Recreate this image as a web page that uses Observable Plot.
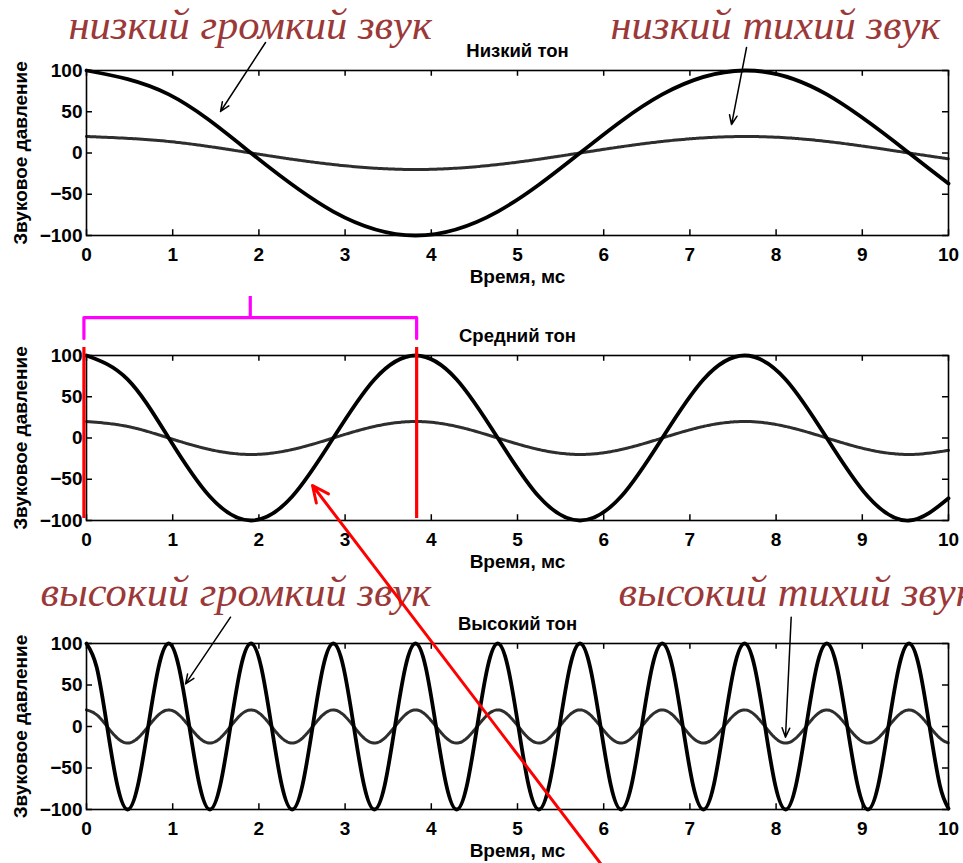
<!DOCTYPE html>
<html>
<head>
<meta charset="utf-8">
<script src="https://cdn.jsdelivr.net/npm/d3@7"></script>
<script src="https://cdn.jsdelivr.net/npm/@observablehq/plot@0.6"></script>
<style>
html, body { margin: 0; padding: 0; background: #fff; overflow: hidden; width: 963px; height: 863px; }
#wrap { position: relative; width: 963px; height: 863px; overflow: hidden; }
#wrap > svg { position: absolute; left: 0; }
</style>
</head>
<body>
<div id="wrap"></div>
<script>
// ---------- data ----------
const panelTitles = ["Низкий тон", "Средний тон", "Высокий тон"];
const xLabel = "Время, мс";
const yLabel = "Звуковое давление";
const xTicks = [0, 1, 2, 3, 4, 5, 6, 7, 8, 9, 10];
const yTicks = [-100, -50, 0, 50, 100];
const noteTexts = ["низкий громкий звук", "низкий тихий звук", "высокий громкий звук", "высокий тихий звук"];

// Low tone (period ≈ 7.63 ms)
const timeLowMs = [0, 0.954, 1.908, 2.863, 3.817, 4.771, 5.725, 6.680, 7.634, 8.588, 9.542, 10];
const lowLoud  = [100, 71, 0, -71, -100, -71, 0, 71, 100, 71, 0, -37];
const lowQuiet = [20, 14, 0, -14, -20, -14, 0, 14, 20, 14, 0, -7];

// Middle tone (period ≈ 3.82 ms)
const timeMidMs = [0, 0.477, 0.954, 1.431, 1.908, 2.386, 2.863, 3.340, 3.817, 4.294, 4.771,
  5.248, 5.725, 6.202, 6.680, 7.157, 7.634, 8.111, 8.588, 9.065, 9.542, 10];
const midLoud  = [100, 71, 0, -71, -100, -71, 0, 71, 100, 71, 0, -71, -100, -71, 0, 71, 100, 71, 0, -71, -100, -73];
const midQuiet = [20, 14, 0, -14, -20, -14, 0, 14, 20, 14, 0, -14, -20, -14, 0, 14, 20, 14, 0, -14, -20, -15];

// High tone (period ≈ 0.954 ms)
const timeHighMs = [
  0, 0.119, 0.239, 0.358, 0.477, 0.596, 0.716, 0.835,
  0.954, 1.073, 1.193, 1.312, 1.431, 1.551, 1.670, 1.789,
  1.908, 2.028, 2.147, 2.266, 2.386, 2.505, 2.624, 2.743,
  2.863, 2.982, 3.101, 3.220, 3.340, 3.459, 3.578, 3.698,
  3.817, 3.936, 4.055, 4.175, 4.294, 4.413, 4.532, 4.652,
  4.771, 4.890, 5.010, 5.129, 5.248, 5.367, 5.487, 5.606,
  5.725, 5.844, 5.964, 6.083, 6.202, 6.322, 6.441, 6.560,
  6.679, 6.799, 6.918, 7.037, 7.157, 7.276, 7.395, 7.514,
  7.634, 7.753, 7.872, 7.991, 8.111, 8.230, 8.349, 8.468,
  8.588, 8.707, 8.826, 8.946, 9.065, 9.184, 9.303, 9.423,
  9.542, 9.661, 9.780, 9.900, 10];
const highLoud = [
  100, 71, 0, -71, -100, -71, 0, 71,
  100, 71, 0, -71, -100, -71, 0, 71,
  100, 71, 0, -71, -100, -71, 0, 71,
  100, 71, 0, -71, -100, -71, 0, 71,
  100, 71, 0, -71, -100, -71, 0, 71,
  100, 71, 0, -71, -100, -71, 0, 71,
  100, 71, 0, -71, -100, -71, 0, 71,
  100, 71, 0, -71, -100, -71, 0, 71,
  100, 71, 0, -71, -100, -71, 0, 71,
  100, 71, 0, -71, -100, -71, 0, 71,
  100, 71, 0, -71, -99];
const highQuiet = [
  20, 14, 0, -14, -20, -14, 0, 14,
  20, 14, 0, -14, -20, -14, 0, 14,
  20, 14, 0, -14, -20, -14, 0, 14,
  20, 14, 0, -14, -20, -14, 0, 14,
  20, 14, 0, -14, -20, -14, 0, 14,
  20, 14, 0, -14, -20, -14, 0, 14,
  20, 14, 0, -14, -20, -14, 0, 14,
  20, 14, 0, -14, -20, -14, 0, 14,
  20, 14, 0, -14, -20, -14, 0, 14,
  20, 14, 0, -14, -20, -14, 0, 14,
  20, 14, 0, -14, -20];

// highlighted period in the middle panel (ms)
const periodMarks = [-0.03, 3.83];

// ---------- build ----------
const toPts = (t, v) => t.map((d, i) => ({t: d, v: v[i]}));
const series = [
  {loud: toPts(timeLowMs, lowLoud),  quiet: toPts(timeLowMs, lowQuiet)},
  {loud: toPts(timeMidMs, midLoud),  quiet: toPts(timeMidMs, midQuiet)},
  {loud: toPts(timeHighMs, highLoud), quiet: toPts(timeHighMs, highQuiet)}
];

// layout of each panel (pixels) and annotations (data units)
const layout = [
  {top: 0,   height: 285, marginTop: 70, marginBottom: 50},
  {top: 285, height: 285, marginTop: 70, marginBottom: 50},
  {top: 570, height: 293, marginTop: 73, marginBottom: 54}
];
const notes = [
  [{text: noteTexts[0], x: -0.209, y: 138.2}, {text: noteTexts[1], x: 6.079, y: 138.2}],
  [],
  [{text: noteTexts[2], x: -0.534, y: 144.6}, {text: noteTexts[3], x: 6.172, y: 144.6}]
];
const blackArrows = [
  [{x1: 2.077, y1: 133.9, x2: 1.555, y2: 50.3}, {x1: 7.657, y1: 127.9, x2: 7.483, y2: 34.5}],
  [],
  [{x1: 1.671, y1: 131.7, x2: 1.149, y2: 51.4}, {x1: 8.175, y1: 131.7, x2: 8.109, y2: -12.9}]
];
const redArrow = [{x1: 6.044, y1: -176, x2: 2.622, y2: 290.4}];
const bracket = [
  {x: periodMarks[0], y: 120.6}, {x: periodMarks[0], y: 146},
  {x: periodMarks[1], y: 146}, {x: periodMarks[1], y: 120.6}
];
const bracketStem = [{x: (periodMarks[0] + periodMarks[1]) / 2, y1: 146, y2: 171.5}];

const font = "'Liberation Sans', Arial, Helvetica, sans-serif";
const serif = "'Liberation Serif', 'Times New Roman', serif";
const wrap = document.getElementById("wrap");

layout.forEach((L, i) => {
  const marks = [
    Plot.line(series[i].quiet, {x: "t", y: "v", curve: "natural", stroke: "#2e2e2e", strokeWidth: 3, strokeDasharray: "2.5,0.8"}),
    Plot.line(series[i].loud,  {x: "t", y: "v", curve: "natural", stroke: "#000", strokeWidth: 3.8}),
    Plot.frame({stroke: "#000", strokeWidth: 1.6}),
    Plot.ruleX(xTicks, {x: d => d, y1: -100, y2: -93, stroke: "#000", strokeWidth: 1.5}),
    Plot.ruleX(xTicks, {x: d => d, y1: 100, y2: 93, stroke: "#000", strokeWidth: 1.5}),
    Plot.ruleY(yTicks, {y: d => d, x1: 0, x2: 0.07, stroke: "#000", strokeWidth: 1.5}),
    Plot.ruleY(yTicks, {y: d => d, x1: 10, x2: 9.93, stroke: "#000", strokeWidth: 1.5}),
    Plot.text([panelTitles[i]], {frameAnchor: "top", text: d => d, dy: -14, lineAnchor: "bottom", fontSize: 18.5, fontWeight: "bold", fill: "#000"}),
    Plot.text([xLabel], {frameAnchor: "bottom", text: d => d, dy: 47, lineAnchor: "bottom", fontWeight: "bold", fill: "#000"}),
    Plot.text([yLabel], {frameAnchor: "left", text: d => d, rotate: -90, dx: -66, textAnchor: "middle", lineAnchor: "middle", fontWeight: "bold", fill: "#000"}),
    Plot.text(notes[i], {x: "x", y: "y", text: "text", textAnchor: "start", lineAnchor: "bottom", fontFamily: serif, fontStyle: "italic", fontWeight: "normal", fontSize: 42.5, fill: "#9b3838"}),
    Plot.arrow(blackArrows[i], {x1: "x1", y1: "y1", x2: "x2", y2: "y2", stroke: "#000", strokeWidth: 1.5, headLength: 10, headAngle: 45})
  ];
  if (i === 1) {
    marks.push(
      Plot.ruleX(periodMarks, {x: d => d, y1: -97.6, y2: 109.7, stroke: "#ff0000", strokeWidth: 3.2}),
      Plot.line(bracket, {x: "x", y: "y", stroke: "#ff00ff", strokeWidth: 3.2}),
      Plot.ruleX(bracketStem, {x: "x", y1: "y1", y2: "y2", stroke: "#ff00ff", strokeWidth: 3.2})
    );
  }
  if (i === 2) {
    marks.push(Plot.arrow(redArrow, {x1: "x1", y1: "y1", x2: "x2", y2: "y2", stroke: "#ff0000", strokeWidth: 3, headLength: 9, headAngle: 50}));
  }
  const chart = Plot.plot({
    width: 963,
    height: L.height,
    marginLeft: 86,
    marginRight: 15,
    marginTop: L.marginTop,
    marginBottom: L.marginBottom,
    x: {domain: [0, 10], ticks: xTicks, tickSize: 0, tickPadding: 12, label: null},
    y: {domain: [-100, 100], ticks: yTicks, tickSize: 0, tickPadding: 4, label: null},
    style: {background: "transparent", overflow: "visible", fontFamily: font, fontSize: "19px", fontWeight: "bold", color: "#000"},
    marks
  });
  chart.style.top = L.top + "px";
  wrap.appendChild(chart);
});
</script>
</body>
</html>
